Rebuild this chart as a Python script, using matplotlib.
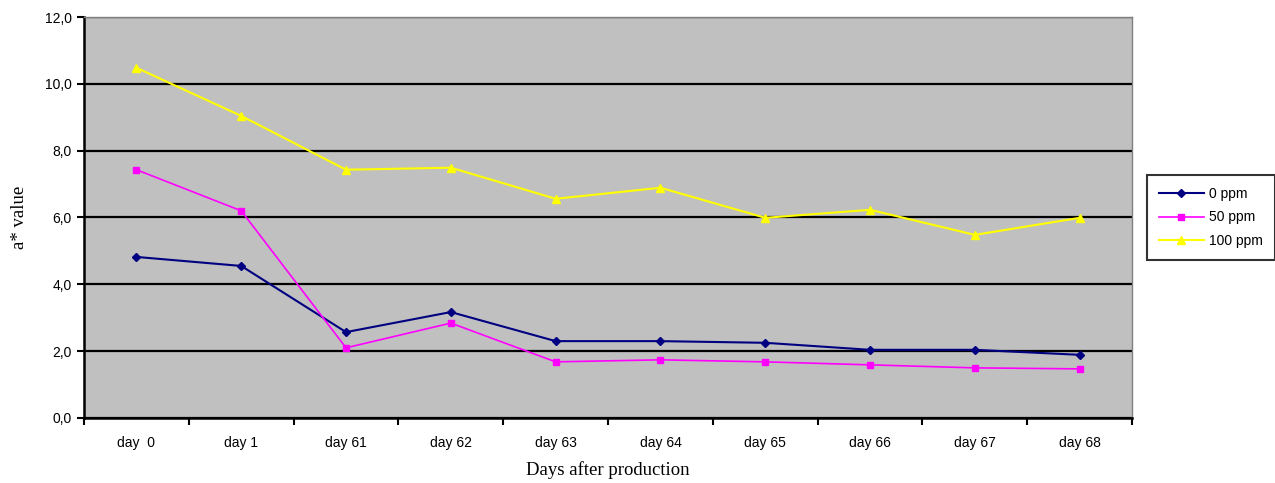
import numpy as np
import matplotlib
matplotlib.use("Agg")
import matplotlib.pyplot as plt
from matplotlib.ticker import FixedLocator, FuncFormatter

days = ['day  0', 'day 1', 'day 61', 'day 62', 'day 63', 'day 64', 'day 65', 'day 66', 'day 67', 'day 68']
ppm0 = [4.82, 4.55, 2.57, 3.17, 2.30, 2.30, 2.25, 2.04, 2.04, 1.89]
ppm50 = [7.43, 6.20, 2.10, 2.84, 1.68, 1.74, 1.68, 1.59, 1.50, 1.47]
ppm100 = [10.48, 9.04, 7.43, 7.49, 6.56, 6.89, 5.99, 6.23, 5.48, 5.99]

fig = plt.figure(figsize=(12.75, 4.83), dpi=100)
ax = fig.add_axes([0.0659, 0.1346, 0.8220, 0.8302])
ax.set_facecolor('#C0C0C0')

x = np.arange(len(days))
ax.plot(x, ppm0, color='#000080', marker='D', markersize=4, lw=1.5, label='0 ppm', zorder=4)
ax.plot(x, ppm50, color='#FF00FF', marker='s', markersize=5, lw=1.2, label='50 ppm', zorder=4)
ax.plot(x, ppm100, color='#FFFF00', marker='^', markersize=6, lw=1.5, label='100 ppm', zorder=4)

ax.set_xlim(-0.5, len(days) - 0.5)
ax.set_ylim(0, 12)
ax.set_yticks(np.arange(0, 13, 2))
ax.yaxis.set_major_formatter(FuncFormatter(lambda v, p: ('%.1f' % v).replace('.', ',')))
ax.yaxis.grid(True, color='black', lw=1.6)
ax.set_axisbelow(True)

ax.set_xticks(x)
ax.set_xticklabels(days)
ax.xaxis.set_minor_locator(FixedLocator(np.arange(-0.5, len(days), 1.0)))
ax.tick_params(axis='x', which='major', length=0, pad=13)
ax.tick_params(axis='x', which='minor', length=5, width=1.5, direction='out')
ax.tick_params(axis='y', length=5, width=1.5, direction='out', pad=4)
for lab in ax.get_xticklabels() + ax.get_yticklabels():
    lab.set_fontfamily('Liberation Sans')
    lab.set_fontsize(10)

for s in ['left', 'bottom']:
    ax.spines[s].set_linewidth(1.8)
    ax.spines[s].set_color('black')
for s in ['top', 'right']:
    ax.spines[s].set_color('#808080')
    ax.spines[s].set_linewidth(1)

ax.set_ylabel('a* value', fontfamily='Liberation Serif', fontsize=13.5, labelpad=12)
ax.set_xlabel('Days after production', fontfamily='Liberation Serif', fontsize=13.5, labelpad=8)

leg = ax.legend(loc='center left', bbox_to_anchor=(1.012, 0.5), frameon=True, fancybox=False,
                edgecolor='black', prop={'family': 'Liberation Sans', 'size': 10},
                handlelength=3.2, handletextpad=0.4, borderpad=0.85, labelspacing=0.7,
                borderaxespad=0.2)
leg.get_frame().set_linewidth(1.5)

fig.savefig('out.png', dpi=100)
